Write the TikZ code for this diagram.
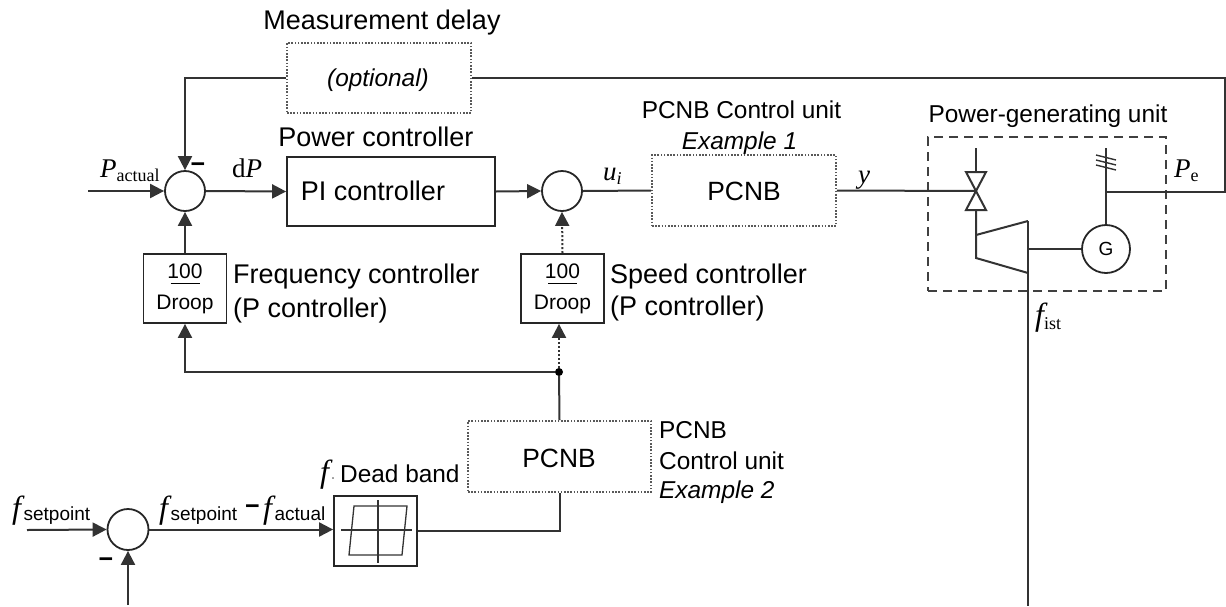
\documentclass[tikz,border=0pt]{standalone}
\usepackage{fontspec}
\setmainfont{Liberation Sans}
\newfontfamily\timesfont{Liberation Serif}
\usetikzlibrary{arrows.meta,positioning,calc}

% variable letters and subscripts
\newcommand{\varf}{{\fontsize{32}{32}\timesfont\itshape f}}
\newcommand{\subsans}[1]{\kern2.5pt\raisebox{-2pt}{\fontsize{19}{19}\normalfont\selectfont #1}}
\newcommand{\subtimes}[1]{\raisebox{-4pt}{\fontsize{18}{18}\timesfont #1}}
\newcommand{\varP}{{\fontsize{27}{27}\timesfont\itshape P}}
\newcommand{\droopfrac}{100\\[-25pt]\smash{\rule{29pt}{1.5pt}}\\[-6pt]Droop}

\begin{document}
\begin{tikzpicture}[
    x=1pt, y=-1pt,
    wire/.style={line width=2pt, black!80},
    arrow/.style={wire, -{Triangle[length=14pt,width=14pt]}},
    dotwire/.style={arrow, dash pattern=on 2pt off 2pt},
    sum/.style={circle, draw=black!85, line width=1.8pt, minimum size=40pt, inner sep=0pt},
    block/.style={draw=black!85, line width=1.8pt, inner sep=0pt},
    dotblock/.style={draw=black!65, line width=1.6pt, dash pattern=on 1.6pt off 1.6pt, inner sep=0pt},
    droopbox/.style={block, minimum width=83pt, minimum height=69pt, align=center, font=\fontsize{21}{31}\selectfont},
    lbl/.style={inner sep=0pt, anchor=base west, font=\fontsize{24.4}{29}\selectfont},
    biglbl/.style={lbl, font=\fontsize{27}{32}\selectfont},
    var/.style={inner sep=0pt, anchor=base west, font=\fontsize{27}{27}\timesfont},
    minus/.style={inner sep=0pt, font=\fontsize{25}{25}\selectfont\bfseries},
]
    \useasboundingbox (0,0) rectangle (1226,606);

    % Upper row
    \node[sum] (sumA) at (185,191) {};
    \node[sum] (sumB) at (562,191) {};
    \node[block, minimum width=208pt, minimum height=69pt] (piBox) at (391,191.5) {};
    \node[dotblock, minimum width=184pt, minimum height=71pt] (pcnbA) at (744,190.5) {};
    \node[dotblock, minimum width=184pt, minimum height=70pt] (delayBox) at (379,78) {};
    \node[droopbox] (droopA) at (185,288.5) {\droopfrac};
    \node[droopbox] (droopB) at (562.5,288.5) {\droopfrac};

    % Lower row
    \node[sum, minimum size=41pt] (sumC) at (128,529.5) {};
    \node[block, minimum width=83pt, minimum height=70pt] (deadBox) at (375.5,531) {};
    \node[dotblock, minimum width=183pt, minimum height=71pt] (pcnbB) at (559.5,456.5) {};
    \node[circle, fill=black, minimum size=8pt, inner sep=0pt] (tap) at (559,372) {};

    % Hysteresis symbol
    \draw[line width=1.3pt, black!80] (354,506) -- (407,506) -- (402,555) -- (349,555) -- cycle;
    \draw[line width=1.3pt, black!80] (341,530) -- (412,530) (378,500) -- (378,563);

    % Power-generating unit
    \node[draw=black!75, line width=1.8pt, dashed, dash pattern=on 9pt off 6pt, minimum width=238pt, minimum height=154pt, inner sep=0pt] (genBox) at (1047,214) {};
    \node[circle, draw=black!85, line width=1.8pt, minimum size=48pt, inner sep=0pt, font=\fontsize{19}{19}\selectfont] (gen) at (1106,249) {G};
    \coordinate (valve) at (976,191);
    \coordinate (valveTop) at (976,148);
    \coordinate (genTop) at (1106,148);
    \coordinate (busTap) at (1106,192);
    \coordinate (busEnd) at (1225,192);
    \coordinate (shaftTop) at (1028,221);
    \coordinate (shaftEnd) at (1028,606);
    \coordinate (shaftTap) at (1028,249);
    \draw[wire, line join=miter] ($(valve)+(-10,-19)$) -- ($(valve)+(10,-19)$) -- ($(valve)+(-10,19)$) -- ($(valve)+(10,19)$) -- cycle;
    \draw[wire] (valveTop) -- ($(valve)+(0,-19)$);
    \draw[wire] ($(valve)+(0,19)$) -- (976,258) -- (shaftTop |- 0,273);
    \draw[wire] (976,235) -- (shaftTop);
    \draw[wire] (shaftTop) -- (shaftEnd);
    \draw[wire] (shaftTap) -- (gen.west);
    \draw[wire] (gen.north) -- (genTop);
    \draw[wire, line width=1.4pt] (1096,155) -- (1116,160) (1096,160) -- (1116,165) (1096,165) -- (1116,170);

    % Connectors
    \coordinate (inP) at (88,191);
    \coordinate (inF) at (27,530);
    \coordinate (inFb) at (128,605);
    \draw[arrow] (inP) -- (sumA.west);
    \draw[arrow] (sumA.east) -- (piBox.west);
    \draw[arrow] (piBox.east) -- (sumB.west);
    \draw[wire] (sumB.east) -- (pcnbA.west);
    \draw[wire] (pcnbA.east) -- (valve);
    \draw[arrow] (droopA.north) -- (sumA.south);
    \draw[dotwire] (droopB.north) -- (sumB.south);
    \draw[arrow] (tap) -| (droopA.south);
    \draw[dotwire] (tap) -- (tap |- droopB.south);
    \draw[wire] (pcnbB.north) -- (tap);
    \draw[wire] (deadBox.east) -| (pcnbB.south);
    \draw[arrow] (sumC.east) -- (deadBox.west |- sumC.east);
    \draw[arrow] (inF) -- (sumC.west);
    \draw[arrow] (inFb) -- (sumC.south);
    \draw[arrow] (delayBox.west) -| (sumA.north);
    \draw[wire] (delayBox.east) -| (busEnd) -- (busTap);

    % Text of the blocks
    \node[lbl, anchor=base] (delayName) at (382,29) {\fontsize{27}{30}\selectfont Measurement delay};
    \node[lbl, anchor=base] (delayNote) at (378,86) {\itshape (optional)};
    \node[biglbl, anchor=base] (piName) at (376,146) {Power controller};
    \node[biglbl, anchor=base] (piText) at (373,200) {PI controller};
    \node[lbl, anchor=base] (pcnbAName) at (741.5,118) {PCNB Control unit};
    \node[lbl, anchor=base] (pcnbAEx) at (739.5,149) {\itshape Example 1};
    \node[biglbl, anchor=base] (pcnbAText) at (744,200) {\fontsize{26.4}{30}\selectfont PCNB};
    \node[lbl, anchor=base] (genName) at (1048,122) {Power-generating unit};
    \node[biglbl] (freqA) at (233,283) {Frequency controller};
    \node[biglbl] (freqB) at (233,317) {(P controller)};
    \node[biglbl] (speedA) at (610,283) {Speed controller};
    \node[biglbl] (speedB) at (610,315) {(P controller)};
    \node[biglbl, anchor=base] (pcnbBText) at (559,467) {\fontsize{26.4}{30}\selectfont PCNB};
    \node[lbl] (pcnbBa) at (659,438) {PCNB};
    \node[lbl] (pcnbBb) at (659,469) {Control unit};
    \node[lbl] (pcnbBc) at (659,498) {\itshape Example 2};
    \node[lbl] (deadName) at (340,482) {Dead band};

    % Signal labels
    \node[var] (pActual) at (100,177) {\varP\subtimes{actual}};
    \node[var] (dP) at (232,177) {d\varP};
    \node[var] (ui) at (603,180) {\itshape u\subtimes{i}};
    \node[var] (yOut) at (858,183) {\itshape y};
    \node[var] (pE) at (1174,177) {\varP\subtimes{e}};
    \node[var] (fIst) at (1035,325) {\varf\subtimes{ist}};
    \node[var] (fDead) at (320,482) {\varf\hspace{2pt}{\fontsize{12}{12}\selectfont ·}};
    \node[var] (fSet) at (12,518) {\varf\subsans{setpoint}};
    \node[var] (fDiff) at (159,518) {\varf\subsans{setpoint}};
    \node[var] (fAct) at (263,518) {\varf\subsans{actual}};
    \node[minus] (minusDiff) at (252.5,510) {−};
    \node[minus] (minusA) at (198,168) {−};
    \node[minus] (minusC) at (106,563) {−};
\end{tikzpicture}
\end{document}
